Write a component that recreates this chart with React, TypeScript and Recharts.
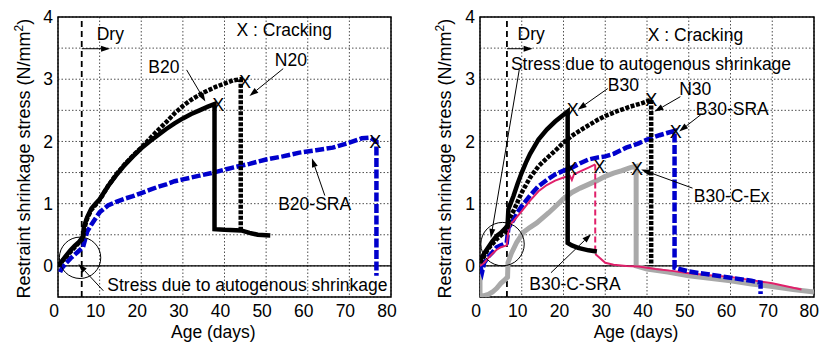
import React from 'react';
import { LineChart, Line, XAxis, YAxis, CartesianGrid, ReferenceLine, ReferenceDot, ReferenceArea } from 'recharts';

const FONT = "'Liberation Sans', Arial, Helvetica, sans-serif";

const xTicks = [0, 10, 20, 30, 40, 50, 60, 70, 80];
const yTicks = [-0.5, 0, 0.5, 1, 1.5, 2, 2.5, 3, 3.5, 4];

// left panel: [age (days), stress (N/mm2)]
const B20 = [
  [0, 0], [1, 0.08], [2, 0.17], [3, 0.25], [4, 0.32], [5, 0.38], [6, 0.47], [6.2, 0.62],
  [7, 0.78], [8, 0.92], [9, 1.0], [10, 1.07], [12, 1.28], [14, 1.46], [16, 1.62], [18, 1.76],
  [20, 1.89], [22, 2.0], [24, 2.1], [26, 2.2], [28, 2.29], [30, 2.37], [32, 2.44], [34, 2.5],
  [36, 2.56], [37.6, 2.6], [37.6, 0.59], [40, 0.58], [44, 0.57], [46, 0.53], [48, 0.5], [51, 0.49],
];
const N20 = [
  [0, 0], [2, 0.15], [4, 0.3], [6, 0.44], [6.3, 0.6], [7, 0.76], [8, 0.9], [10, 1.06], [12, 1.28],
  [14, 1.47], [16, 1.63], [18, 1.77], [20, 1.9], [22, 2.04], [24, 2.18], [26, 2.31], [28, 2.45],
  [30, 2.57], [32, 2.67], [34, 2.75], [36, 2.82], [38, 2.88], [40, 2.93], [42, 2.98], [43.9, 3.0],
  [43.9, 0.57],
];
const B20_SRA = [
  [0.5, -0.1], [1, -0.03], [2, 0.05], [3, 0.12], [4, 0.18], [5, 0.24], [6, 0.3], [6.5, 0.42],
  [7, 0.55], [8, 0.66], [9, 0.76], [10, 0.86], [12, 0.97], [14, 1.03], [16, 1.08], [18, 1.12],
  [20, 1.17], [22, 1.22], [24, 1.27], [26, 1.31], [28, 1.36], [30, 1.39], [34, 1.45], [38, 1.51],
  [42, 1.58], [46, 1.64], [50, 1.71], [54, 1.76], [58, 1.82], [62, 1.86], [66, 1.9], [70, 1.98],
  [73, 2.05], [75, 2.06], [76.5, 2.0], [76.5, -0.16],
];
const leftCracks = [[38.5, 2.59], [44.9, 2.96], [76.2, 2.0]];

// right panel
const B30 = [
  [0, 0.08], [1, 0.2], [2, 0.3], [3, 0.4], [4, 0.48], [5, 0.53], [6, 0.6], [6.6, 0.65], [6.8, 0.91],
  [8, 1.12], [9, 1.32], [10, 1.5], [11, 1.66], [12, 1.8], [14, 2.03], [16, 2.19], [18, 2.32],
  [20, 2.43], [21, 2.48], [21, 0.37], [22, 0.33], [23.5, 0.29], [26, 0.25], [28, 0.23],
];
const N30 = [
  [0, 0.05], [2, 0.28], [4, 0.43], [6, 0.55], [6.6, 0.62], [7, 0.76], [8, 0.88], [10, 1.18],
  [12, 1.42], [14, 1.6], [16, 1.73], [18, 1.85], [20, 1.98], [22, 2.09], [25, 2.22], [28, 2.34],
  [30, 2.41], [33, 2.49], [36, 2.56], [39, 2.62], [41, 2.67], [41, 0],
];
const B30_SRA = [
  [0, 0], [0.5, -0.1], [1, 0.05], [2, 0.15], [3, 0.22], [4, 0.3], [5, 0.33], [6.4, 0.37], [6.8, 0.61],
  [8, 0.74], [9, 0.86], [10, 0.96], [12, 1.13], [14, 1.28], [16, 1.38], [18, 1.47], [20, 1.53],
  [22, 1.58], [24, 1.65], [26, 1.71], [28, 1.74], [30, 1.76], [32, 1.8], [35, 1.9], [38, 1.97],
  [40, 2.03], [43, 2.1], [45, 2.14], [46.6, 2.17], [46.6, -0.03], [50, -0.09], [55, -0.14],
  [60, -0.19], [65, -0.24], [67.2, -0.27], [67.2, -0.45],
];
const C_SRA = [
  [0, 0], [1, 0.05], [2, 0.13], [3, 0.2], [4, 0.26], [5, 0.3], [6.4, 0.33], [6.8, 0.56], [7.2, 0.66],
  [8, 0.72], [9, 0.8], [10, 0.88], [12, 1.05], [14, 1.2], [16, 1.3], [18, 1.37], [20, 1.42],
  [21.5, 1.45], [22, 1.38], [22.5, 1.47], [24, 1.52], [26, 1.58], [27.6, 1.63],
];
const C_SRA_DROP = [[27.6, 1.63], [27.6, 0.19]];
const C_SRA_POST = [
  [27.6, 0.19], [28.5, 0.14], [30, 0.05], [32, 0.02], [35, 0], [38, -0.01], [42, -0.05],
  [46, -0.08], [50, -0.12], [55, -0.15], [60, -0.18], [65, -0.23], [70, -0.28], [75, -0.35], [77, -0.38],
];
const C_EX = [
  [0, 0], [0, -0.48], [1, -0.48], [2, -0.46], [3, -0.42], [4, -0.36], [5, -0.28], [6, -0.22],
  [6.6, -0.18], [6.7, 0.05], [7.5, 0.2], [8.8, 0.38], [10.4, 0.54], [12, 0.62], [13.6, 0.69],
  [16.4, 0.85], [18, 0.95], [20, 1.08], [22, 1.18], [24, 1.25], [26, 1.31], [28, 1.37], [30, 1.44],
  [32, 1.49], [34, 1.53], [36, 1.58], [37.4, 1.6], [37.4, 0], [40, -0.05], [45, -0.1], [50, -0.16],
  [55, -0.2], [60, -0.24], [65, -0.29], [70, -0.33], [75, -0.38], [80, -0.42],
];
const rightCracks = [[22.2, 2.51], [21.8, 1.57], [28.6, 1.6], [37.6, 1.57], [41, 2.67], [46.9, 2.16]];

const pts = (a: number[][]) => a.map(([x, y]) => ({ x, y }));

const Arrow = (p: any) => {
  const { x1, y1, x2, y2 } = p;
  const a = Math.atan2(y2 - y1, x2 - x1);
  const L = 9, W = 3;
  const bx = x2 - L * Math.cos(a), by = y2 - L * Math.sin(a);
  const px = -Math.sin(a) * W, py = Math.cos(a) * W;
  return (
    <g>
      <line x1={x1} y1={y1} x2={bx} y2={by} stroke="#000" strokeWidth={1} />
      <polygon points={`${x2},${y2} ${bx + px},${by + py} ${bx - px},${by - py}`} fill="#000" />
    </g>
  );
};

const txt = (s: string, anchor = 'start') => (p: any) => (
  <text x={p.cx} y={p.cy} dy="0.35em" fontSize={17.5} fontFamily={FONT} textAnchor={anchor} fill="#000">{s}</text>
);

const xMark = (p: any) => (
  <text x={p.cx} y={p.cy} dy="0.36em" fontSize={18} fontFamily={FONT} textAnchor="middle" fill="#000">X</text>
);

const yLabel = (cx: number) => () => (
  <text transform={`translate(${cx},158.7) rotate(-90)`} textAnchor="middle" dy="0.35em" fontSize={18} fontFamily={FONT} fill="#000">
    Restraint shrinkage stress (N/mm<tspan dy={-7} fontSize={12}>2</tspan><tspan dy={7}>)</tspan>
  </text>
);

const xLabel = (cx: number) => () => (
  <text x={cx} y={331.7} dy="0.35em" textAnchor="middle" fontSize={17.5} fontFamily={FONT} fill="#000">Age (days)</text>
);

const tickStyle = { fontSize: 17.5, fill: '#000', fontFamily: FONT };

const axes = (yw: number, ylx: number, xlx: number) => [
  <CartesianGrid key="g" stroke="#222" strokeDasharray="1.5 2" strokeWidth={0.8} />,
  <XAxis key="x" dataKey="x" type="number" domain={[0, 80]} ticks={xTicks} allowDataOverflow
    height={46} axisLine={false} tickLine={false} tickSize={8} tickMargin={0} tick={{ ...tickStyle, dx: -4 }}
    label={{ content: xLabel(xlx) }} />,
  <YAxis key="y" type="number" domain={[-0.5, 4]} ticks={yTicks} allowDataOverflow width={yw}
    axisLine={false} tickLine={false} tickSize={5} tickMargin={0} tick={tickStyle}
    tickFormatter={(v: number) => (Number.isInteger(v) ? String(v) : '')}
    label={{ content: yLabel(ylx) }} />,
  <ReferenceLine key="zero" y={0} stroke="#000" strokeWidth={1.2} />,
  <ReferenceArea key="frame" x1={0} x2={80} y1={-0.5} y2={4} fill="none" stroke="#000" strokeWidth={1.5} />,
];

const common = { dot: false, isAnimationActive: false, type: 'linear' as const, dataKey: 'y' };

const LeftPanel = () => (
  <LineChart width={411} height={343} margin={{ top: 17, right: 20, bottom: 0, left: 0 }}>
    {axes(58, 23.3, 213.3)}
    <ReferenceLine x={5.7} stroke="#000" strokeWidth={1.8} strokeDasharray="6 4" />
    <Line data={pts(B20_SRA)} stroke="#0000cc" strokeWidth={4.5} strokeDasharray="9 2.5" {...common} />
    <Line data={pts(N20)} stroke="#000" strokeWidth={4.5} strokeDasharray="4 1.5" {...common} />
    <Line data={pts(B20)} stroke="#000" strokeWidth={4.5} {...common} />
    <ReferenceLine segment={[{ x: 5.7, y: 3.49 }, { x: 12.5, y: 3.49 }]} shape={Arrow} />
    <ReferenceDot x={9.3} y={3.73} shape={txt('Dry')} />
    <ReferenceDot x={42.9} y={3.79} shape={txt('X : Cracking')} />
    <ReferenceDot x={21.7} y={3.2} shape={txt('B20')} />
    <ReferenceLine segment={[{ x: 30.9, y: 3.15 }, { x: 35.4, y: 2.64 }]} shape={Arrow} />
    <ReferenceDot x={52.1} y={3.31} shape={txt('N20')} />
    <ReferenceLine segment={[{ x: 54.1, y: 3.17 }, { x: 46, y: 2.73 }]} shape={Arrow} />
    <ReferenceDot x={52.9} y={1.0} shape={txt('B20-SRA')} />
    <ReferenceLine segment={[{ x: 64.1, y: 1.13 }, { x: 61, y: 1.73 }]} shape={Arrow} />
    <ReferenceDot x={11.85} y={-0.31} shape={txt('Stress due to autogenous shrinkage')} />
    <ReferenceLine segment={[{ x: 10.9, y: -0.4 }, { x: 4.9, y: 0.03 }]} shape={Arrow} />
    <ReferenceDot x={5.3} y={0.13} r={20.7} fill="none" stroke="#000" strokeWidth={1} />
    {leftCracks.map(([x, y], i) => <ReferenceDot key={'lc' + i} x={x} y={y} shape={xMark} />)}
  </LineChart>
);

const RightPanel = () => (
  <LineChart width={411} height={343} margin={{ top: 17, right: 8, bottom: 0, left: 0 }}>
    {axes(69, 33.7, 225)}
    <ReferenceLine x={6.45} stroke="#000" strokeWidth={1.8} strokeDasharray="6 4" />
    <Line data={pts(C_EX)} stroke="#a9a9a9" strokeWidth={5} {...common} />
    <Line data={pts(C_SRA_POST)} stroke="#e0206a" strokeWidth={2} {...common} />
    <Line data={pts(B30_SRA)} stroke="#0000cc" strokeWidth={4.5} strokeDasharray="9 2.5" {...common} />
    <Line data={pts(C_SRA)} stroke="#e0206a" strokeWidth={2} {...common} />
    <Line data={pts(C_SRA_DROP)} stroke="#e0206a" strokeWidth={2} strokeDasharray="6 3" {...common} />
    <Line data={pts(N30)} stroke="#000" strokeWidth={4.5} strokeDasharray="4 1.5" {...common} />
    <Line data={pts(B30)} stroke="#000" strokeWidth={4.5} {...common} />
    <ReferenceLine segment={[{ x: 6.45, y: 3.49 }, { x: 12.6, y: 3.49 }]} shape={Arrow} />
    <ReferenceDot x={9.0} y={3.73} shape={txt('Dry')} />
    <ReferenceDot x={40.2} y={3.71} shape={txt('X : Cracking')} />
    <ReferenceDot x={7.4} y={3.25} shape={txt('Stress due to autogenous shrinkage')} />
    <ReferenceLine segment={[{ x: 9.4, y: 3.15 }, { x: 2.6, y: 0.45 }]} shape={Arrow} />
    <ReferenceDot x={5.4} y={0.35} r={21.7} fill="none" stroke="#000" strokeWidth={1} />
    <ReferenceDot x={30.6} y={2.91} shape={txt('B30')} />
    <ReferenceLine segment={[{ x: 30.6, y: 2.85 }, { x: 23.4, y: 2.51 }]} shape={Arrow} />
    <ReferenceDot x={47.7} y={2.85} shape={txt('N30')} />
    <ReferenceLine segment={[{ x: 48, y: 2.72 }, { x: 41.8, y: 2.48 }]} shape={Arrow} />
    <ReferenceDot x={51.7} y={2.53} shape={txt('B30-SRA')} />
    <ReferenceLine segment={[{ x: 52.9, y: 2.43 }, { x: 47.7, y: 2.16 }]} shape={Arrow} />
    <ReferenceDot x={51.2} y={1.12} shape={txt('B30-C-Ex')} />
    <ReferenceLine segment={[{ x: 50.9, y: 1.25 }, { x: 38.6, y: 1.55 }]} shape={Arrow} />
    <ReferenceDot x={11.8} y={-0.29} shape={txt('B30-C-SRA')} />
    <ReferenceLine segment={[{ x: 17, y: -0.11 }, { x: 26.6, y: 0.51 }]} shape={Arrow} />
    {rightCracks.map(([x, y], i) => <ReferenceDot key={'rc' + i} x={x} y={y} shape={xMark} />)}
  </LineChart>
);

export default function App() {
  return (
    <div style={{ position: 'absolute', left: 0, top: 0, width: 822, height: 343, background: '#fff', display: 'flex' }}>
      <LeftPanel />
      <RightPanel />
    </div>
  );
}
